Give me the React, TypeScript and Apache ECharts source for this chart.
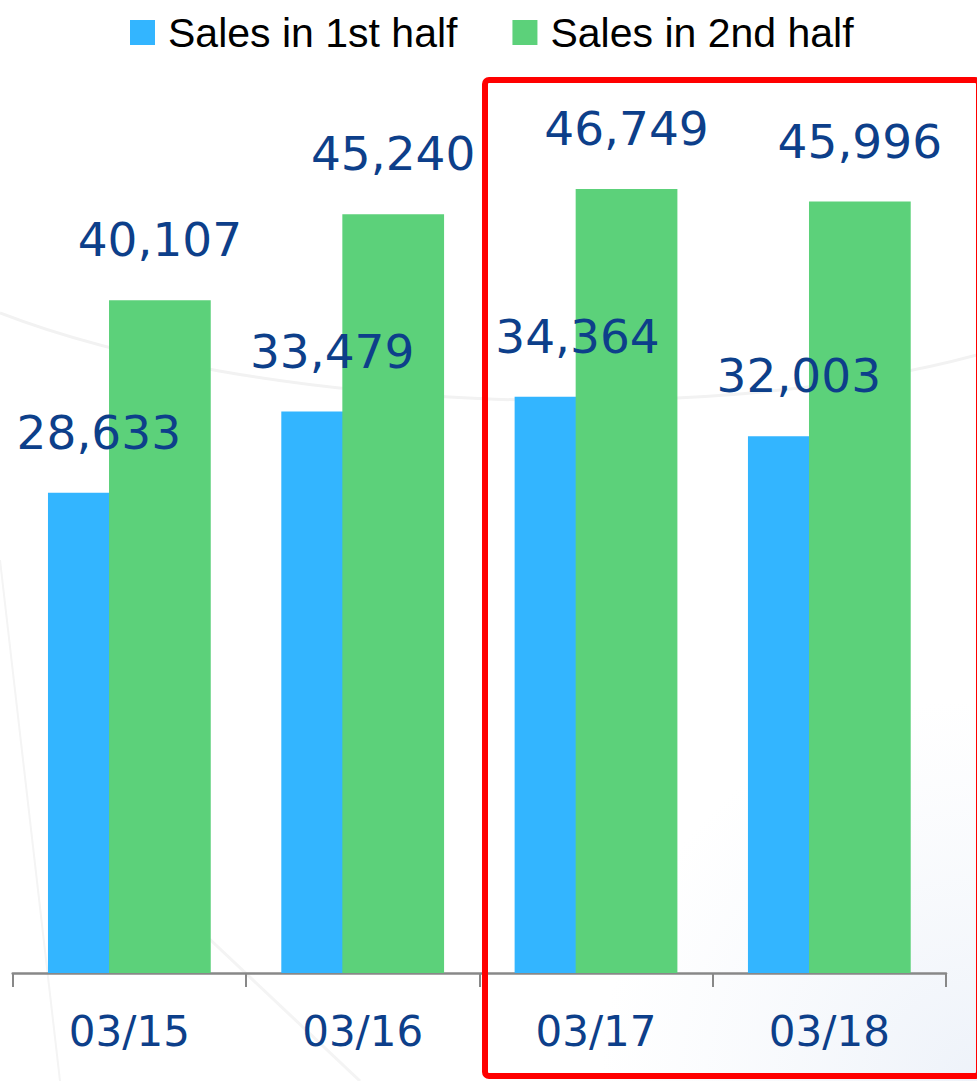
import React, { useEffect, useRef } from "react";
import * as echarts from "echarts";

const categories = ["03/15", "03/16", "03/17", "03/18"];
const firstHalf = [28633, 33479, 34364, 32003];
const secondHalf = [40107, 45240, 46749, 45996];
const seriesNames = ["Sales in 1st half", "Sales in 2nd half"];

const LABEL_COLOR = "#0d3f8a";

export default function App() {
  const ref = useRef<HTMLDivElement>(null);
  useEffect(() => {
    if (!ref.current) return;
    const chart = echarts.init(ref.current, undefined, { renderer: "svg" });
    const fmt = (p: any) => Number(p.value).toLocaleString("en-US");
    const label = {
      show: true,
      position: "top",
      distance: 37,
      color: LABEL_COLOR,
      fontFamily: "DejaVu Sans",
      fontSize: 47,
      formatter: fmt,
    };
    chart.setOption({
      animation: false,
      backgroundColor: "#ffffff",
      legend: {
        left: 130,
        top: 12,
        padding: 0,
        icon: "rect",
        itemWidth: 25,
        itemHeight: 25,
        itemGap: 55,
        textStyle: {
          fontFamily: "Liberation Sans",
          fontSize: 41,
          color: "#000",
          padding: [0, 0, 0, 8],
        },
        data: seriesNames,
      },
      grid: { left: 12.7, right: 31, top: 50.6, bottom: 108 },
      xAxis: {
        type: "category",
        data: categories,
        axisLine: { lineStyle: { color: "#888", width: 2.5 } },
        axisTick: { show: true, length: 14, lineStyle: { color: "#888", width: 2 } },
        axisLabel: {
          color: LABEL_COLOR,
          fontFamily: "DejaVu Sans",
          fontSize: 42,
          margin: 37,
        },
      },
      yAxis: {
        type: "value",
        show: false,
        min: 0,
        max: 55000,
        splitLine: { show: false },
      },
      graphic: [
        {
          type: "bezierCurve",
          z: -10,
          silent: true,
          shape: { x1: 0, y1: 313, cpx1: 250, cpy1: 410, cpx2: 700, cpy2: 430, x2: 977, y2: 355 },
          style: { stroke: "#f2f2f2", lineWidth: 3, fill: "none" },
        },
        {
          type: "line",
          z: -10,
          silent: true,
          shape: { x1: 0, y1: 560, x2: 60, y2: 1081 },
          style: { stroke: "#f4f4f4", lineWidth: 2 },
        },
        {
          type: "line",
          z: -10,
          silent: true,
          shape: { x1: 200, y1: 930, x2: 360, y2: 1081 },
          style: { stroke: "#f4f4f4", lineWidth: 3 },
        },
        {
          type: "rect",
          z: -10,
          silent: true,
          shape: { x: 600, y: 700, width: 377, height: 381 },
          style: {
            fill: new echarts.graphic.RadialGradient(1, 1, 1, [
              { offset: 0, color: "rgba(236,241,249,0.9)" },
              { offset: 1, color: "rgba(240,244,250,0)" },
            ]),
          },
        },
        {
          type: "rect",
          z: 100,
          silent: true,
          shape: { x: 485, y: 80, width: 494, height: 996, r: 4 },
          style: { fill: "none", stroke: "#ff0000", lineWidth: 6 },
        },
      ],
      series: [
        {
          name: seriesNames[0],
          type: "bar",
          data: firstHalf.map((v, i) =>
            i === 2 ? { value: v, label: { offset: [12, 0] } } : v
          ),
          barWidth: "43.6%",
          barGap: "-40%",
          itemStyle: { color: "#33b5ff" },
          label,
        },
        {
          name: seriesNames[1],
          type: "bar",
          data: secondHalf,
          barWidth: "43.6%",
          barGap: "-40%",
          itemStyle: { color: "#5cd17a" },
          label,
        },
      ],
    });
    return () => chart.dispose();
  }, []);
  return (
    <div
      ref={ref}
      style={{ position: "fixed", left: 0, top: 0, width: 977, height: 1081 }}
    />
  );
}
